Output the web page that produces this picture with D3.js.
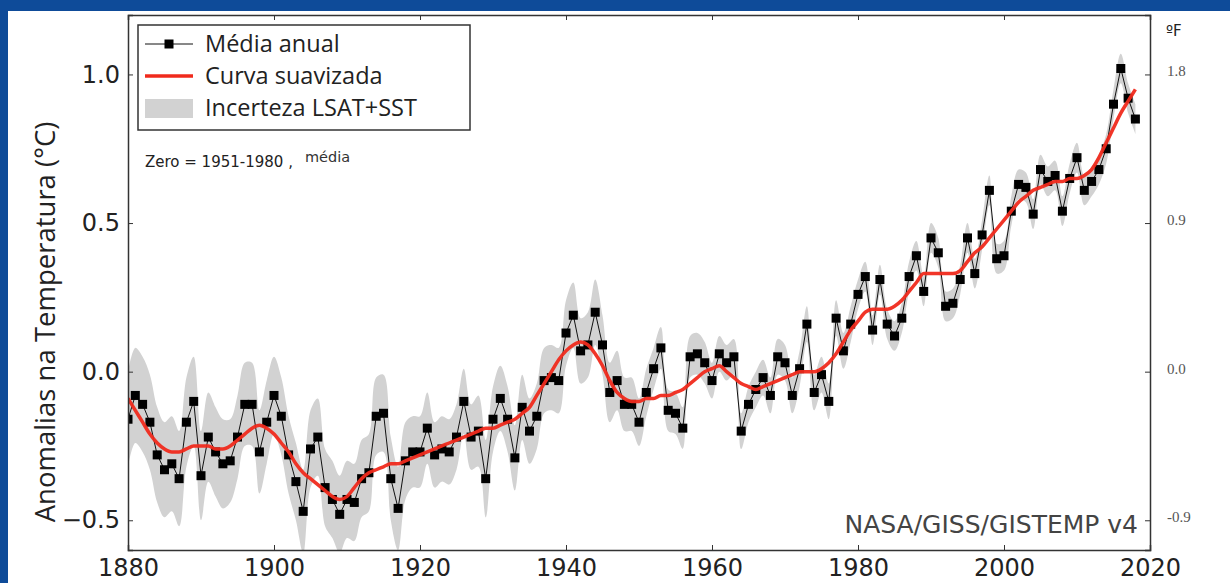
<!DOCTYPE html>
<html><head><meta charset="utf-8">
<script src="https://cdn.jsdelivr.net/npm/d3@7"></script>
<style>
html,body{margin:0;padding:0;background:#fff;}
svg{display:block;}
</style></head>
<body>
<svg id="c" width="1230" height="583"></svg>
<script>
// ---- data ----
const startYear = 1880;
const annualMean = [
-0.16,-0.08,-0.11,-0.17,-0.28,-0.33,-0.31,-0.36,-0.17,-0.10,
-0.35,-0.22,-0.27,-0.31,-0.30,-0.22,-0.11,-0.11,-0.27,-0.17,
-0.08,-0.15,-0.28,-0.37,-0.47,-0.26,-0.22,-0.39,-0.43,-0.48,
-0.43,-0.44,-0.36,-0.34,-0.15,-0.14,-0.36,-0.46,-0.30,-0.27,
-0.27,-0.19,-0.28,-0.26,-0.27,-0.22,-0.10,-0.22,-0.20,-0.36,
-0.16,-0.09,-0.16,-0.29,-0.12,-0.20,-0.15,-0.03,-0.02,-0.03,
0.13,0.19,0.07,0.09,0.20,0.09,-0.07,-0.03,-0.11,-0.11,
-0.17,-0.07,0.01,0.08,-0.13,-0.14,-0.19,0.05,0.06,0.03,
-0.03,0.06,0.03,0.05,-0.20,-0.11,-0.06,-0.02,-0.08,0.05,
0.03,-0.08,0.01,0.16,-0.07,-0.01,-0.10,0.18,0.07,0.16,
0.26,0.32,0.14,0.31,0.16,0.12,0.18,0.32,0.39,0.27,
0.45,0.40,0.22,0.23,0.31,0.45,0.33,0.46,0.61,0.38,
0.39,0.54,0.63,0.62,0.53,0.68,0.64,0.66,0.54,0.65,
0.72,0.61,0.64,0.68,0.75,0.90,1.02,0.92,0.85
];
const smoothed = [
-0.09,-0.13,-0.17,-0.21,-0.24,-0.26,-0.27,-0.27,-0.26,-0.25,
-0.25,-0.25,-0.26,-0.26,-0.25,-0.23,-0.21,-0.19,-0.18,-0.19,
-0.21,-0.24,-0.27,-0.31,-0.34,-0.36,-0.38,-0.40,-0.42,-0.43,
-0.42,-0.39,-0.36,-0.34,-0.33,-0.32,-0.31,-0.31,-0.30,-0.29,
-0.28,-0.27,-0.26,-0.25,-0.24,-0.23,-0.22,-0.21,-0.20,-0.19,
-0.19,-0.18,-0.17,-0.16,-0.14,-0.12,-0.08,-0.04,0.00,0.04,
0.07,0.09,0.10,0.09,0.06,0.02,-0.03,-0.07,-0.09,-0.10,
-0.10,-0.09,-0.09,-0.08,-0.08,-0.07,-0.06,-0.04,-0.02,0.00,
0.01,0.02,0.00,-0.02,-0.04,-0.05,-0.06,-0.05,-0.04,-0.03,
-0.02,-0.01,0.00,0.00,0.00,0.01,0.03,0.06,0.10,0.14,
0.17,0.20,0.21,0.21,0.21,0.22,0.24,0.27,0.30,0.33,
0.33,0.33,0.33,0.33,0.34,0.37,0.40,0.42,0.45,0.48,
0.51,0.54,0.57,0.59,0.61,0.62,0.63,0.64,0.64,0.65,
0.65,0.66,0.68,0.72,0.77,0.82,0.87,0.91,0.95
];
const uncertainty = [
0.16,0.16,0.16,0.16,0.16,0.16,0.16,0.16,0.15,0.15,
0.15,0.15,0.15,0.15,0.14,0.14,0.14,0.14,0.14,0.14,
0.13,0.13,0.13,0.13,0.14,0.13,0.13,0.13,0.13,0.13,
0.13,0.13,0.13,0.13,0.13,0.13,0.14,0.14,0.13,0.12,
0.12,0.12,0.11,0.11,0.11,0.11,0.11,0.11,0.12,0.13,
0.11,0.11,0.11,0.11,0.11,0.11,0.11,0.11,0.11,0.11,
0.11,0.11,0.11,0.11,0.11,0.10,0.10,0.10,0.09,0.09,
0.08,0.08,0.07,0.07,0.07,0.07,0.07,0.07,0.07,0.07,
0.06,0.06,0.06,0.06,0.06,0.06,0.06,0.06,0.06,0.06,
0.06,0.06,0.06,0.06,0.06,0.06,0.06,0.06,0.06,0.06,
0.05,0.05,0.05,0.05,0.05,0.05,0.05,0.05,0.05,0.05,
0.05,0.05,0.05,0.05,0.05,0.05,0.05,0.05,0.05,0.05,
0.05,0.05,0.05,0.05,0.05,0.05,0.05,0.05,0.05,0.05,
0.05,0.05,0.05,0.05,0.05,0.05,0.05,0.05,0.05
];
const xTicks = [1880,1900,1920,1940,1960,1980,2000,2020];
const yTicks = [-0.5,0.0,0.5,1.0];
const yTickLabels = ["\u22120.5","0.0","0.5","1.0"];
const fTicks = [-0.5,0.0,0.5,1.0];
const fTickLabels = ["-0.9","0.0","0.9","1.8"];
const legendLabels = ["Média anual","Curva suavizada","Incerteza LSAT+SST"];

const years = annualMean.map((d,i)=>startYear+i);

// ---- layout ----
const svg = d3.select("#c");
const W=1230,H=583;
const m = {l:128, r:1150, t:15, b:550};

// blue frame
svg.append("rect").attr("x",0).attr("y",0).attr("width",W).attr("height",H).attr("fill","#0e4b99");
svg.append("rect").attr("x",8).attr("y",11).attr("width",W-8).attr("height",H-11).attr("fill","#ffffff");

const x = d3.scaleLinear().domain([1880,2020]).range([m.l,m.r]);
const y = d3.scaleLinear().domain([-0.6,1.2]).range([m.b,m.t]);

svg.append("clipPath").attr("id","clip").append("rect")
  .attr("x",m.l).attr("y",m.t).attr("width",m.r-m.l).attr("height",m.b-m.t);

const g = svg.append("g").attr("clip-path","url(#clip)");

// uncertainty band
const band = d3.area()
  .x((d,i)=>x(years[i]))
  .y0((d,i)=>y(annualMean[i]-uncertainty[i]))
  .y1((d,i)=>y(annualMean[i]+uncertainty[i]))
  .curve(d3.curveCatmullRom.alpha(0.5));
g.append("path").datum(annualMean).attr("d",band).attr("fill","#d2d2d2");

// annual line
const line = d3.line().x((d,i)=>x(years[i])).y(d=>y(d));
g.append("path").datum(annualMean).attr("d",line)
  .attr("fill","none").attr("stroke","#111").attr("stroke-width",1);

// markers
const ms = 9;
g.selectAll("rect.pt").data(annualMean).enter().append("rect")
  .attr("class","pt")
  .attr("x",(d,i)=>x(years[i])-ms/2).attr("y",d=>y(d)-ms/2)
  .attr("width",ms).attr("height",ms).attr("fill","#000");

// smoothed
const sline = d3.line().x((d,i)=>x(years[i])).y(d=>y(d)).curve(d3.curveMonotoneX);
g.append("path").datum(smoothed).attr("d",sline)
  .attr("fill","none").attr("stroke","#f02a1c").attr("stroke-width",3.5)
  .attr("stroke-opacity",0.95).attr("stroke-linejoin","round");

// axes (ticks inside)
const axisColor="#333";
const tl = 5;
const axB = d3.axisBottom(x).tickValues(xTicks).tickSize(-tl).tickFormat(d3.format("d"));
const axT = d3.axisTop(x).tickValues(xTicks).tickSize(-tl).tickFormat("");
const axL = d3.axisLeft(y).tickValues(yTicks).tickSize(-tl).tickPadding(8).tickFormat((d,i)=>yTickLabels[i]);
const axR = d3.axisRight(y).tickValues(fTicks).tickSize(-tl).tickPadding(17).tickFormat((d,i)=>fTickLabels[i]);

function style(sel){
  sel.select(".domain").attr("stroke",axisColor).attr("stroke-width",1.5);
  sel.selectAll(".tick line").attr("stroke",axisColor).attr("stroke-width",1);
}
const gb = svg.append("g").attr("transform",`translate(0,${m.b})`).call(axB); style(gb);
gb.selectAll("text").attr("font-family","DejaVu Sans").attr("font-size",24).attr("fill","#222")
  .attr("y",26).attr("dy",0);
const gt = svg.append("g").attr("transform",`translate(0,${m.t})`).call(axT); style(gt);
const gl = svg.append("g").attr("transform",`translate(${m.l},0)`).call(axL); style(gl);
gl.selectAll("text").attr("font-family","DejaVu Sans").attr("font-size",24).attr("fill","#222");
const gr = svg.append("g").attr("transform",`translate(${m.r},0)`).call(axR); style(gr);
gr.selectAll("text").attr("font-family","Liberation Serif").attr("font-size",15).attr("fill","#555").attr("dy","0.1em");

svg.append("text").attr("x",1166).attr("y",36).text("ºF")
  .attr("font-family","DejaVu Sans").attr("font-size",15).attr("fill","#222");

// y label
svg.append("text").attr("transform","translate(55,322) rotate(-90)")
  .attr("text-anchor","middle").attr("font-family","Open Sans").attr("font-size",27.5).attr("fill","#222")
  .text("Anomalias na Temperatura (°C)");

// source
svg.append("text").attr("x",1138).attr("y",533).attr("text-anchor","end")
  .attr("font-family","DejaVu Sans").attr("font-size",25).attr("fill","#444")
  .text("NASA/GISS/GISTEMP v4");

// zero note
svg.append("text").attr("x",145).attr("y",167).attr("font-family","DejaVu Sans").attr("font-size",15)
  .attr("fill","#222").text("Zero = 1951-1980 ,");
svg.append("text").attr("x",305).attr("y",162).attr("font-family","DejaVu Sans").attr("font-size",14.5)
  .attr("fill","#333").text("média");

// legend
const lg = svg.append("g");
lg.append("rect").attr("x",138).attr("y",25).attr("width",332).attr("height",105)
  .attr("fill","#fff").attr("stroke","#333").attr("stroke-width",1.5);
const rowY = [44,76,108];
lg.append("line").attr("x1",145).attr("x2",193).attr("y1",rowY[0]).attr("y2",rowY[0]).attr("stroke","#111").attr("stroke-width",1);
lg.append("rect").attr("x",169-ms/2).attr("y",rowY[0]-ms/2).attr("width",ms).attr("height",ms).attr("fill","#000");
lg.append("line").attr("x1",145).attr("x2",193).attr("y1",rowY[1]).attr("y2",rowY[1]).attr("stroke","#f02a1c").attr("stroke-width",3.5);
lg.append("rect").attr("x",145).attr("y",rowY[2]-9).attr("width",48).attr("height",19).attr("fill","#d2d2d2");
lg.selectAll("text.lt").data(legendLabels).enter().append("text").attr("class","lt")
  .attr("x",205).attr("y",(d,i)=>rowY[i]+8).attr("font-family","Open Sans").attr("font-size",23.5).attr("fill","#222")
  .text(d=>d);
</script>
</body></html>
